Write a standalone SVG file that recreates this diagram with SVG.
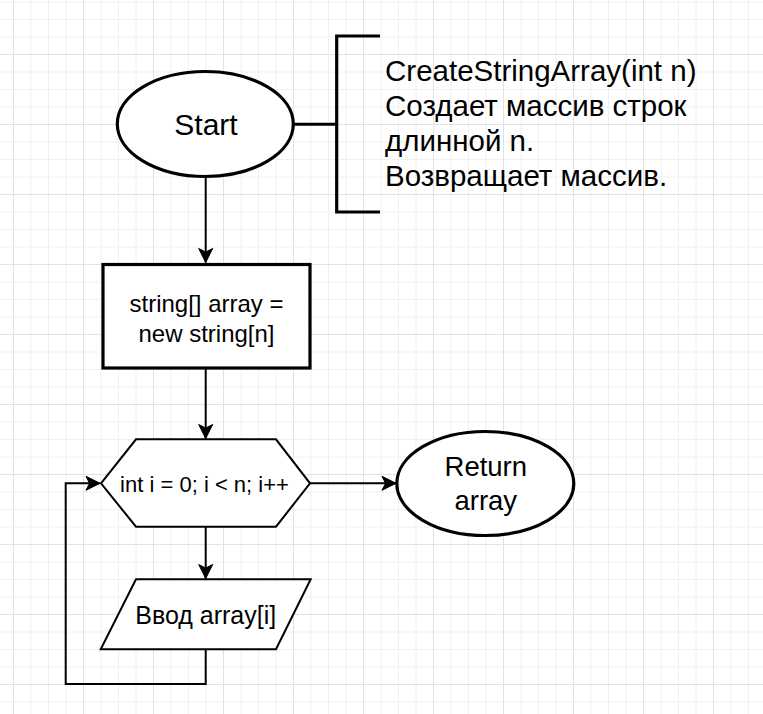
<svg xmlns="http://www.w3.org/2000/svg" width="763" height="714" viewBox="0 0 763 714">
  <style>
    .t { font-family: "Liberation Sans", Arial, sans-serif; fill: #000; text-anchor: middle; }
    .tl { font-family: "Liberation Sans", Arial, sans-serif; fill: #000; text-anchor: start; }
    .thick { fill: #fff; stroke: #000; stroke-width: 3.2; }
    .thin { fill: #fff; stroke: #000; stroke-width: 2; }
    .edge { fill: none; stroke: #000; stroke-width: 2; }
    .minor { stroke: #f0f0f0; stroke-width: 1; }
    .major { stroke: #e2e2e2; stroke-width: 1; }
  </style>
  <defs>
    <pattern id="grid" patternUnits="userSpaceOnUse" x="13" y="54" width="70" height="70">
      <line class="minor" x1="18" y1="0" x2="18" y2="70"/>
      <line class="minor" x1="35.5" y1="0" x2="35.5" y2="70"/>
      <line class="minor" x1="53" y1="0" x2="53" y2="70"/>
      <line class="minor" x1="0" y1="18" x2="70" y2="18"/>
      <line class="minor" x1="0" y1="35.5" x2="70" y2="35.5"/>
      <line class="minor" x1="0" y1="53" x2="70" y2="53"/>
      <line class="major" x1="0.5" y1="0" x2="0.5" y2="70"/>
      <line class="major" x1="0" y1="0.5" x2="70" y2="0.5"/>
    </pattern>
    <marker id="arr" markerUnits="userSpaceOnUse" markerWidth="16" markerHeight="16" viewBox="0 0 16 16" refX="15" refY="8" orient="auto">
      <path d="M15,8 L1,1 L4.5,8 L1,15 Z" fill="#000" stroke="#000" stroke-width="1"/>
    </marker>
  </defs>
  <rect x="0" y="0" width="763" height="714" fill="#fff"/>
  <rect x="0" y="0" width="763" height="714" fill="url(#grid)"/>

  <g id="connectors">
    <line class="edge" x1="205.7" y1="176" x2="205.7" y2="262.5" marker-end="url(#arr)"/>
    <line class="edge" x1="205.7" y1="368" x2="205.7" y2="438.5" marker-end="url(#arr)"/>
    <line class="edge" x1="205.7" y1="527" x2="205.7" y2="578.5" marker-end="url(#arr)"/>
    <line class="edge" x1="310" y1="483.3" x2="396" y2="483.3" marker-end="url(#arr)"/>
    <polyline class="edge" points="205.7,649.5 205.7,684 65.7,684 65.7,483.3 100,483.3" marker-end="url(#arr)"/>
    <line class="edge" x1="293.5" y1="124.3" x2="336.7" y2="124.3" style="stroke-width:3"/>
  </g>

  <g id="start">
    <ellipse class="thick" cx="205.3" cy="124" rx="88" ry="52.5"/>
    <text class="t" x="206" y="135" font-size="30">Start</text>
  </g>

  <g id="annotation">
    <polyline points="380,36 336.7,36 336.7,212 380,212" fill="none" stroke="#000" stroke-width="3.2"/>
    <text class="tl" x="385" y="80.7" font-size="29.5">CreateStringArray(int n)</text>
    <text class="tl" x="385" y="116" font-size="29.5">Создает массив строк</text>
    <text class="tl" x="385" y="151.2" font-size="29.5">длинной n.</text>
    <text class="tl" x="385" y="186.4" font-size="29.5">Возвращает массив.</text>
  </g>

  <g id="init">
    <rect class="thick" x="103" y="264.5" width="207" height="103.5"/>
    <text class="t" x="206.5" y="311.7" font-size="24">string[] array =</text>
    <text class="t" x="206.5" y="341.7" font-size="24">new string[n]</text>
  </g>

  <g id="loop">
    <polygon class="thin" points="101,483.3 136,439.3 276,439.3 310,483.3 276,526.7 136,526.7"/>
    <text class="t" x="204.5" y="491.7" font-size="22">int i = 0; i &lt; n; i++</text>
  </g>

  <g id="input">
    <polygon class="thin" points="136,579.3 310.7,579.3 276,649.3 100.7,649.3"/>
    <text class="t" x="205.7" y="624" font-size="25">Ввод array[i]</text>
  </g>

  <g id="return">
    <ellipse class="thick" cx="485.3" cy="483.5" rx="88.5" ry="52"/>
    <text class="t" x="485.8" y="475.7" font-size="27.5">Return</text>
    <text class="t" x="485.8" y="510" font-size="27.5">array</text>
  </g>
</svg>
